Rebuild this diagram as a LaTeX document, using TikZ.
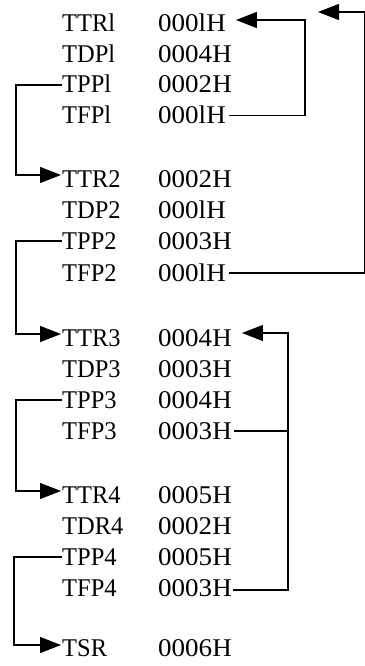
\documentclass[tikz,border=0pt]{standalone}
\usepackage{fontspec}
\setmainfont{Liberation Serif}
\usetikzlibrary{arrows.meta}
\begin{document}
\begin{tikzpicture}[x=1pt,y=-1pt,
  lab/.style={inner sep=0pt,anchor=base west,text height=16pt,text depth=0pt,font=\fontsize{25.5pt}{30pt}\selectfont},
  val/.style={lab},
  conn/.style={line width=1.3pt},
  arr/.style={conn,-{Triangle[length=21pt,width=16pt]}}]
\useasboundingbox (0,0) rectangle (364,666);
\newcommand{\V}[1]{\scalebox{1.06}[1]{#1}}
\newcommand{\Lb}[1]{\scalebox{0.96}[1]{#1}}
% left column
\node[lab] (l1) at (62,32) {\Lb{TTRl}};
\node[lab] (l2) at (62,62.5) {\Lb{TDPl}};
\node[lab] (l3) at (62,93) {\Lb{TPPl}};
\node[lab] (l4) at (62,123.5) {\Lb{TFPl}};
\node[lab] (l5) at (62,187) {\Lb{TTR2}};
\node[lab] (l6) at (62,218) {\Lb{TDP2}};
\node[lab] (l7) at (62,249) {\Lb{TPP2}};
\node[lab] (l8) at (62,281) {\Lb{TFP2}};
\node[lab] (l9) at (62,346) {\Lb{TTR3}};
\node[lab] (l10) at (62,377) {\Lb{TDP3}};
\node[lab] (l11) at (62,408) {\Lb{TPP3}};
\node[lab] (l12) at (62,439) {\Lb{TFP3}};
\node[lab] (l13) at (62,503) {\Lb{TTR4}};
\node[lab] (l14) at (62,534) {\Lb{TDR4}};
\node[lab] (l15) at (62,565) {\Lb{TPP4}};
\node[lab] (l16) at (62,596) {\Lb{TFP4}};
\node[lab] (l17) at (62,656) {\Lb{TSR}};
% right column
\node[val] (r1) at (158,32) {\V{000lH}};
\node[val] (r2) at (158,62.5) {\V{0004H}};
\node[val] (r3) at (158,93) {\V{0002H}};
\node[val] (r4) at (158,123.5) {\V{000lH}};
\node[val] (r5) at (158,187) {\V{0002H}};
\node[val] (r6) at (158,218) {\V{000lH}};
\node[val] (r7) at (158,249) {\V{0003H}};
\node[val] (r8) at (158,281) {\V{000lH}};
\node[val] (r9) at (158,346) {\V{0004H}};
\node[val] (r10) at (158,377) {\V{0003H}};
\node[val] (r11) at (158,408) {\V{0004H}};
\node[val] (r12) at (158,439) {\V{0003H}};
\node[val] (r13) at (158,503) {\V{0005H}};
\node[val] (r14) at (158,534) {\V{0002H}};
\node[val] (r15) at (158,565) {\V{0005H}};
\node[val] (r16) at (158,596) {\V{0003H}};
\node[val] (r17) at (158,656) {\V{0006H}};
% guide coordinates
\coordinate (xl) at (16,0);
\coordinate (xl4) at (14,0);
\coordinate (xa) at (302,0);
\coordinate (xb) at (362,0);
\coordinate (xc) at (287,0);
\coordinate (top) at (318,12);
% left loops
\draw[arr] (l3.west) -- (l3.west -| xl) |- ([xshift=-1pt,yshift=4pt]l5.west);
\draw[arr] (l7.west) -- (l7.west -| xl) |- ([xshift=-1pt,yshift=4pt]l9.west);
\draw[arr] (l11.west) -- (l11.west -| xl) |- ([xshift=-1pt,yshift=4pt]l13.west);
\draw[arr] (l15.west) -- (l15.west -| xl4) |- ([xshift=-1pt,yshift=3pt]l17.west);
% right loops
\draw[arr] ([xshift=3pt]r4.east) -- ([xshift=3pt]r4.east -| xa) |- ([xshift=10pt,yshift=4pt]r1.east);
\draw[arr] ([xshift=3pt]r8.east) -- ([xshift=3pt]r8.east -| xb) |- (top);
\draw[conn] ([xshift=2pt]r12.east) -- ([xshift=2pt]r12.east -| xc);
\draw[arr] ([xshift=1pt,yshift=-2pt]r16.east) -- ([xshift=1pt,yshift=-2pt]r16.east -| xc) |- ([xshift=10pt,yshift=5pt]r9.east);
\end{tikzpicture}
\end{document}
